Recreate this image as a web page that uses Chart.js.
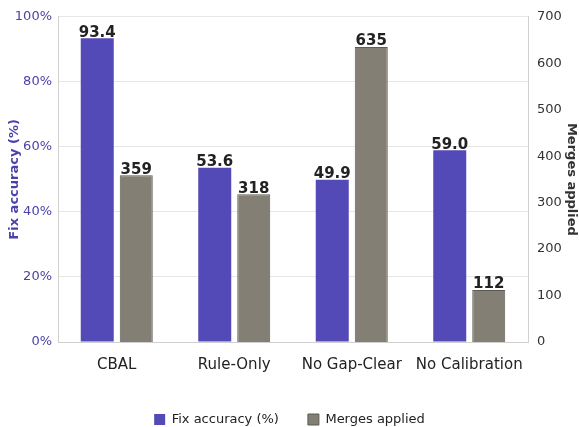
<!DOCTYPE html>
<html>
<head>
<meta charset="utf-8">
<script src="https://cdn.jsdelivr.net/npm/chart.js@4"></script>
<style>
  html, body { margin: 0; padding: 0; background: #fff; }
  #wrap { width: 579px; height: 427px; }
</style>
</head>
<body>
<div id="wrap"><canvas id="myChart"></canvas></div>
<script>
const categories = ["CBAL", "Rule-Only", "No Gap-Clear", "No Calibration"];
const fixAccuracy = [93.4, 53.6, 49.9, 59.0];
const mergesApplied = [359, 318, 635, 112];
const accTicks = [0, 20, 40, 60, 80, 100];
const mergeTicks = [0, 100, 200, 300, 400, 500, 600, 700];

const purple = "#5349b7";
const purpleText = "#4b42a8";
const grey = "#837f74";
const greyText = "#333333";

// draws the value above each bar
const barValues = {
  id: "barValues",
  afterDatasetsDraw(chart) {
    const ctx = chart.ctx;
    ctx.save();
    ctx.font = "bold 15px 'DejaVu Sans'";
    ctx.fillStyle = "#222";
    ctx.textAlign = "center";
    ctx.textBaseline = "bottom";
    chart.data.datasets.forEach((ds, i) => {
      chart.getDatasetMeta(i).data.forEach((bar, j) => {
        let v = ds.data[j];
        let txt = i === 0 ? v.toFixed(1) : String(v);
        ctx.fillText(txt, bar.x, bar.y + 2);
      });
    });
    ctx.restore();
  }
};

Chart.defaults.font.family = "'DejaVu Sans'";

var ctx = document.getElementById("myChart").getContext("2d");
var myChart = new Chart(ctx, {
  type: "bar",
  data: {
    labels: categories,
    datasets: [{
      label: "Fix accuracy (%)",
      data: fixAccuracy,
      backgroundColor: purple,
      borderColor: purple,
      borderWidth: 0,
      yAxisID: "y"
    }, {
      label: "Merges applied",
      data: mergesApplied,
      backgroundColor: grey,
      borderColor: "#5e5b52",
      borderWidth: 1,
      yAxisID: "y1"
    }]
  },
  options: {
    responsive: true,
    maintainAspectRatio: false,
    animation: false,
    layout: { padding: { top: 16, right: 0, left: 0, bottom: -9 } },
    datasets: {
      bar: { categoryPercentage: 0.664, barPercentage: 0.846 }
    },
    plugins: {
      legend: {
        position: "bottom",
        labels: {
          boxWidth: 11, boxHeight: 11, padding: 29,
          color: "#222", font: { size: 13 }
        }
      },
      tooltip: { enabled: false }
    },
    scales: {
      x: {
        grid: { display: false, drawTicks: false },
        border: { color: "#d0d0d0" },
        afterFit: axis => { axis.height = 42; },
        ticks: { color: "#222", font: { size: 15 }, padding: 14, maxRotation: 0, autoSkip: false }
      },
      y: {
        position: "left",
        min: 0, max: 100,
        afterFit: axis => { axis.width = 58; },
        afterBuildTicks: axis => { axis.ticks = accTicks.map(v => ({ value: v })); },
        ticks: { color: purpleText, font: { size: 13 }, padding: 6, callback: v => v + "%" },
        grid: { color: "#e6e6e6", drawTicks: false },
        border: { color: "#d0d0d0" },
        title: { display: true, text: "Fix accuracy (%)", color: purpleText, font: { size: 13, weight: "bold" }, padding: { top: 7, bottom: 0 } }
      },
      y1: {
        position: "right",
        min: 0, max: 700,
        afterFit: axis => { axis.width = 51; },
        afterBuildTicks: axis => { axis.ticks = mergeTicks.map(v => ({ value: v })); },
        ticks: { color: greyText, font: { size: 13 }, padding: 9 },
        grid: { display: false, drawTicks: false },
        border: { color: "#d0d0d0" },
        title: { display: true, text: "Merges applied", color: greyText, font: { size: 13, weight: "bold" }, padding: { top: 0, bottom: 0 } }
      }
    }
  },
  plugins: [barValues]
});
</script>
</body>
</html>
